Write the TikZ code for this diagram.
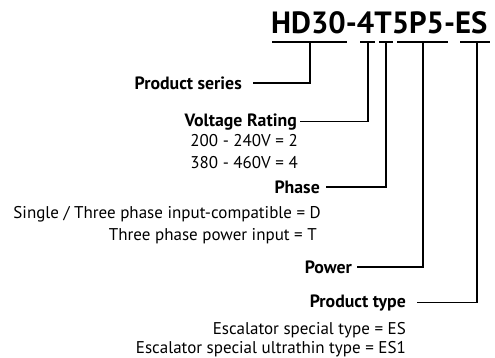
\documentclass[tikz,border=0pt]{standalone}
\usepackage{fontspec}
\setmainfont{PT Sans}
\usepackage{tikz}

\tikzset{
  head/.style={anchor=base east,inner sep=0pt,font=\fontsize{17.8}{21}\selectfont\bfseries},
  info/.style={anchor=base east,inner sep=0pt,font=\fontsize{17}{20}\selectfont},
  lead/.style={line width=1.4pt}
}

\begin{document}
\begin{tikzpicture}[x=1pt,y=-1pt]
  \useasboundingbox (0,0) rectangle (495,357);
  % model code
  \node[anchor=base west,inner sep=0pt,font=\fontsize{30.7}{34}\selectfont\bfseries] (code) at (271,33) {HD30-4T5P5-ES};
  \coordinate (u1) at (310,42);
  \coordinate (u2) at (368,42);
  \coordinate (u3) at (386,42);
  \coordinate (u4) at (423,42);
  \coordinate (u5) at (477,42);
  \draw[lead] (272,42) -- (347,42);
  \draw[lead] (360,42) -- (375,42);
  \draw[lead] (379,42) -- (393,42);
  \draw[lead] (397,42) -- (448,42);
  \draw[lead] (460,42) -- (490,42);
  % fields
  \node[head] (series) at (242,89) {Product series};
  \node[head] (volt) at (297,126) {Voltage Rating};
  \node[info] (volt1) at (298,146) {200 - 240V = 2};
  \node[info] (volt2) at (298,168) {380 - 460V = 4};
  \node[head] (phase) at (320,193) {Phase};
  \node[info] (phase1) at (321,218) {Single / Three phase input-compatible = D};
  \node[info] (phase2) at (317,240) {Three phase power input = T};
  \node[head] (power) at (352,273) {Power};
  \node[head] (ptype) at (406,307) {Product type};
  \node[info] (ptype1) at (406,334) {Escalator special type = ES};
  \node[info] (ptype2) at (406,353) {Escalator special ultrathin type = ES1};
  % leaders
  \draw[lead] ([xshift=11pt]series.east) -| (u1);
  \draw[lead] ([xshift=3pt]volt.east) -| (u2);
  \draw[lead] ([xshift=6pt]phase.east) -| (u3);
  \draw[lead] ([xshift=5pt]power.east) -| (u4);
  \draw[lead] ([xshift=11pt]ptype.east) -| (u5);
\end{tikzpicture}
\end{document}
